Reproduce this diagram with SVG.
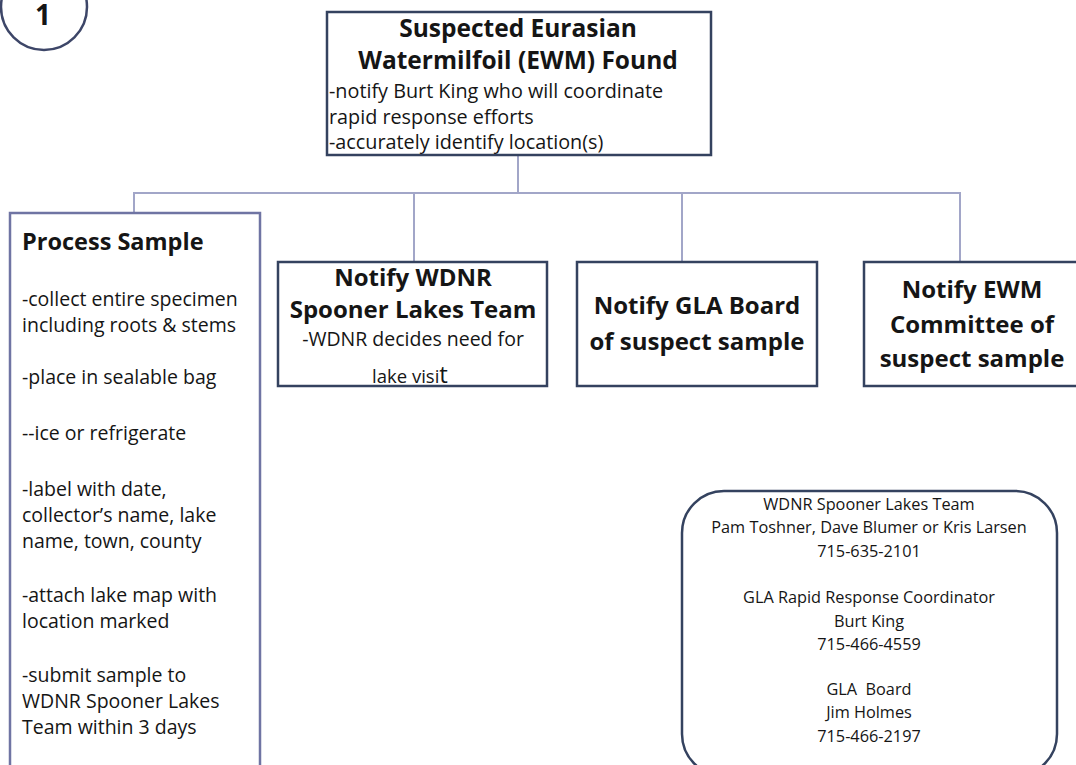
<svg xmlns="http://www.w3.org/2000/svg" width="1076" height="765" viewBox="0 0 1076 765">
<style>
.t{font-family:"Open Sans","Liberation Sans",sans-serif;fill:#151515}
.h{font-weight:bold}
.c{text-anchor:middle}
.b{font-size:19.5px}
.k{font-size:16.3px}
.box{fill:#fff;stroke:#34425f;stroke-width:2.5}
.conn{fill:none;stroke:#a2a6c8;stroke-width:2}
</style>
<rect width="1076" height="765" fill="#fff"/>
<g id="badge">
<circle cx="44" cy="7" r="43" fill="none" stroke="#3d4668" stroke-width="2.5"/>
<text class="t h c" x="43" y="25" font-size="28">1</text>
</g>
<g id="connectors">
<path class="conn" d="M518 155V193M134 213V193H960V262M414 193V262M682 193V262"/>
</g>
<g id="found">
<rect class="box" x="327" y="12" width="384" height="143"/>
<text class="t h c" x="518" y="37" font-size="24.5">Suspected Eurasian</text>
<text class="t h c" x="518" y="69" font-size="24.5">Watermilfoil (EWM) Found</text>
<text class="t" x="329" y="98" font-size="19.8">-notify Burt King who will coordinate</text>
<text class="t" x="329" y="124" font-size="19.8">rapid response efforts</text>
<text class="t" x="329" y="149" font-size="19.8">-accurately identify location(s)</text>
</g>
<g id="process">
<rect x="10" y="213" width="250" height="570" fill="#fff" stroke="#6f74a3" stroke-width="2.5"/>
<text class="t h" x="22" y="250" font-size="23.5">Process Sample</text>
<text class="t b" x="22" y="306">-collect entire specimen</text>
<text class="t b" x="22" y="332">including roots &amp; stems</text>
<text class="t b" x="22" y="384">-place in sealable bag</text>
<text class="t b" x="22" y="440">--ice or refrigerate</text>
<text class="t b" x="22" y="496">-label with date,</text>
<text class="t b" x="22" y="522">collector’s name, lake</text>
<text class="t b" x="22" y="548">name, town, county</text>
<text class="t b" x="22" y="602">-attach lake map with</text>
<text class="t b" x="22" y="628">location marked</text>
<text class="t b" x="22" y="682">-submit sample to</text>
<text class="t b" x="22" y="708">WDNR Spooner Lakes</text>
<text class="t b" x="22" y="734">Team within 3 days</text>
</g>
<g id="wdnr">
<rect class="box" x="278" y="262" width="269" height="124"/>
<text class="t h c" x="413" y="286" font-size="24">Notify WDNR</text>
<text class="t h c" x="413" y="318" font-size="24">Spooner Lakes Team</text>
<text class="t c b" x="413" y="346">-WDNR decides need for</text>
<text class="t c" x="410" y="383" font-size="18.5">lake visi<tspan font-size="24">t</tspan></text>
</g>
<g id="gla">
<rect class="box" x="577" y="262" width="240" height="124"/>
<text class="t h c" x="697" y="314" font-size="24">Notify GLA Board</text>
<text class="t h c" x="697" y="350" font-size="24">of suspect sample</text>
</g>
<g id="ewm">
<rect class="box" x="864" y="262" width="220" height="124"/>
<text class="t h c" x="972" y="298" font-size="24">Notify EWM</text>
<text class="t h c" x="972" y="333" font-size="24">Committee of</text>
<text class="t h c" x="972" y="367" font-size="24">suspect sample</text>
</g>
<g id="contacts">
<rect class="box" x="682" y="491" width="375" height="285" rx="42"/>
<text class="t c k" x="869" y="510">WDNR Spooner Lakes Team</text>
<text class="t c k" x="869" y="533">Pam Toshner, Dave Blumer or Kris Larsen</text>
<text class="t c k" x="869" y="557">715-635-2101</text>
<text class="t c k" x="869" y="603">GLA Rapid Response Coordinator</text>
<text class="t c k" x="869" y="627">Burt King</text>
<text class="t c k" x="869" y="650">715-466-4559</text>
<text class="t c k" x="869" y="695" xml:space="preserve">GLA  Board</text>
<text class="t c k" x="869" y="718">Jim Holmes</text>
<text class="t c k" x="869" y="742">715-466-2197</text>
</g>
</svg>
